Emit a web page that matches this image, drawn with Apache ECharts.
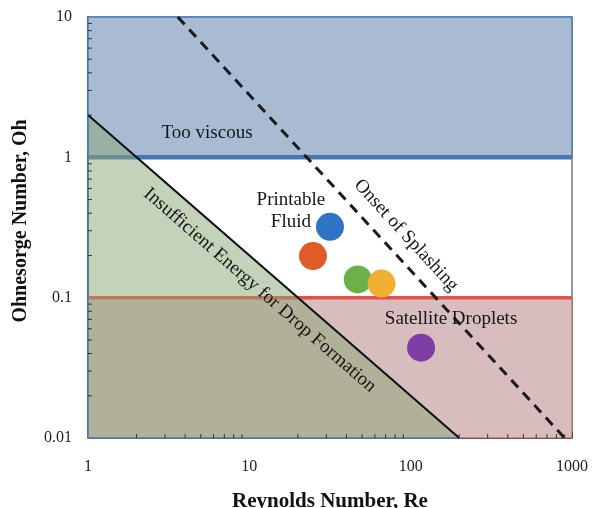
<!DOCTYPE html>
<html><head><meta charset="utf-8">
<script src="https://cdn.jsdelivr.net/npm/echarts/dist/echarts.min.js"></script>
<style>html,body{margin:0;padding:0;background:#fff}#c{width:592px;height:508px}</style>
</head><body><div id="c"></div>
<script>
// ---- data ----
const xTickValues = [1, 10, 100, 1000];
const xTickLabels = ['1', '10', '100', '1000'];
const yTickValues = [0.01, 0.1, 1, 10];
const yTickLabels = ['0.01', '0.1', '1', '10'];
const minorMultipliers = [2, 3, 4, 5, 6, 7, 8, 9];
const xDecades = [1, 10, 100];
const yDecades = [0.01, 0.1, 1];

const tooViscousRegion = [[1, 1], [1000, 1], [1000, 10], [1, 10]];
const satelliteRegion = [[1, 0.01], [1000, 0.01], [1000, 0.1], [1, 0.1]];
const insufficientRegion = [[1, 2], [200, 0.01], [1, 0.01]];
const insufficientBoundary = [[1, 2], [200, 0.01]];
const viscousBoundary = [[1, 1], [1000, 1]];
const satelliteBoundary = [[1, 0.1], [1000, 0.1]];
const splashLine = [[3.6, 10], [900, 0.01]];

const fluidRe = [31.6, 24.8, 47, 66, 116];
const fluidOh = [0.32, 0.198, 0.135, 0.126, 0.044];

const annotationTexts = ['Too viscous', 'Printable\nFluid', 'Satellite Droplets', 'Onset of Splashing', 'Insufficient Energy for Drop Formation'];
const annotationRe = [5.47, 18.1, 178, 93.6, 11.6];
const annotationOh = [1.50, 0.412, 0.070, 0.278, 0.113];
// which line each annotation follows (null = horizontal)
const annotationAlong = [null, null, null, splashLine, insufficientBoundary];

// ---- styles ----
const fluidColors = ['#2f74c4', '#e05c27', '#6cb04a', '#eeb134', '#7d3fa6'];
const serif = '"Liberation Serif", "DejaVu Serif", serif';

const xMinor = [], yMinor = [];
xDecades.forEach(d => minorMultipliers.forEach(m => xMinor.push(d * m)));
yDecades.forEach(d => minorMultipliers.forEach(m => yMinor.push(+(d * m).toPrecision(3))));

function polygonSeries(points, style, z) {
  return {
    type: 'custom', z: z, silent: true,
    data: [points[0]],
    renderItem: (params, api) => ({
      type: 'polygon',
      shape: { points: points.map(p => api.coord(p)) },
      style: style
    })
  };
}
function lineSeries(points, color, width, type, z) {
  return {
    type: 'line', z: z, silent: true, symbol: 'none', data: points,
    lineStyle: { color: color, width: width, type: type }
  };
}

const chart = echarts.init(document.getElementById('c'));
chart.setOption({
  animation: false,
  grid: { left: 88, right: 20, top: 17, bottom: 70, show: true, borderColor: '#333', borderWidth: 1, containLabel: false, outerBoundsMode: 'none' },
  xAxis: {
    type: 'log', logBase: 10, min: 1, max: 1000,
    name: 'Reynolds Number, Re', nameLocation: 'middle', nameGap: 53,
    nameTextStyle: { fontFamily: serif, fontWeight: 'bold', fontSize: 21, color: '#111' },
    axisLine: { show: true, lineStyle: { color: '#333', width: 1.5 } },
    axisTick: { show: true, inside: true, length: 6, lineStyle: { color: '#333' } },
    axisLabel: {
      margin: 21, fontFamily: serif, fontSize: 16, color: '#222',
      formatter: v => xTickLabels[xTickValues.findIndex(t => Math.abs(Math.log10(t) - Math.log10(v)) < 1e-6)] || ''
    },
    splitLine: { show: false }
  },
  yAxis: {
    type: 'log', logBase: 10, min: 0.01, max: 10,
    axisLine: { show: true, lineStyle: { color: '#333', width: 1.5 } },
    axisTick: { show: true, inside: true, length: 6, lineStyle: { color: '#333' } },
    axisLabel: {
      margin: 16, fontFamily: serif, fontSize: 16, color: '#222',
      formatter: v => yTickLabels[yTickValues.findIndex(t => Math.abs(Math.log10(t) - Math.log10(v)) < 1e-6)] || ''
    },
    splitLine: { show: false }
  },
  graphic: [{
    type: 'text', x: 21, y: 221, rotation: Math.PI / 2,
    style: { text: 'Ohnesorge Number, Oh', font: 'bold 20px ' + serif, fill: '#111', align: 'center', verticalAlign: 'middle' }
  }],
  series: [
    polygonSeries(tooViscousRegion, { fill: '#a9bbd3', stroke: '#4a7ebb', lineWidth: 1.5 }, 1),
    polygonSeries(satelliteRegion, { fill: '#d7bdbd', stroke: '#b05a55', lineWidth: 1 }, 1),
    lineSeries(viscousBoundary, '#4577b4', 4.5, 'solid', 2),
    lineSeries(satelliteBoundary, '#e3504b', 3.5, 'solid', 2),
    polygonSeries(insufficientRegion, { fill: 'rgba(140,165,118,0.5)', stroke: '#4a7ebb', lineWidth: 1.5 }, 3),
    lineSeries(insufficientBoundary, '#111', 2, 'solid', 4),
    lineSeries(splashLine, '#1a1a1a', 3, [10, 7], 4),
    {
      type: 'custom', z: 5, silent: true,
      data: [[1, 0.01]],
      renderItem: (params, api) => {
        const children = [];
        xMinor.forEach(v => {
          const p = api.coord([v, 0.01]);
          children.push({ type: 'line', shape: { x1: p[0], y1: p[1], x2: p[0], y2: p[1] - 4 }, style: { stroke: '#333', lineWidth: 1 } });
        });
        yMinor.forEach(v => {
          const p = api.coord([1, v]);
          children.push({ type: 'line', shape: { x1: p[0], y1: p[1], x2: p[0] + 4, y2: p[1] }, style: { stroke: '#333', lineWidth: 1 } });
        });
        return { type: 'group', children: children };
      }
    },
    {
      type: 'scatter', z: 6, symbolSize: 28,
      data: fluidRe.map((r, i) => ({ value: [r, fluidOh[i]], itemStyle: { color: fluidColors[i], opacity: 1 } }))
    },
    {
      type: 'custom', z: 7, silent: true,
      data: annotationRe.map((r, i) => [r, annotationOh[i]]),
      renderItem: (params, api) => {
        const i = params.dataIndex;
        const p = api.coord([api.value(0), api.value(1)]);
        let rot = 0;
        const along = annotationAlong[i];
        if (along) {
          const a = api.coord(along[0]), b = api.coord(along[1]);
          rot = Math.atan2(a[1] - b[1], b[0] - a[0]);
        }
        return {
          type: 'text', x: p[0], y: p[1], rotation: rot,
          style: { text: annotationTexts[i], font: '19px ' + serif, fill: '#151515', align: 'center', verticalAlign: 'middle', lineHeight: 22 }
        };
      }
    }
  ]
});
</script></body></html>
